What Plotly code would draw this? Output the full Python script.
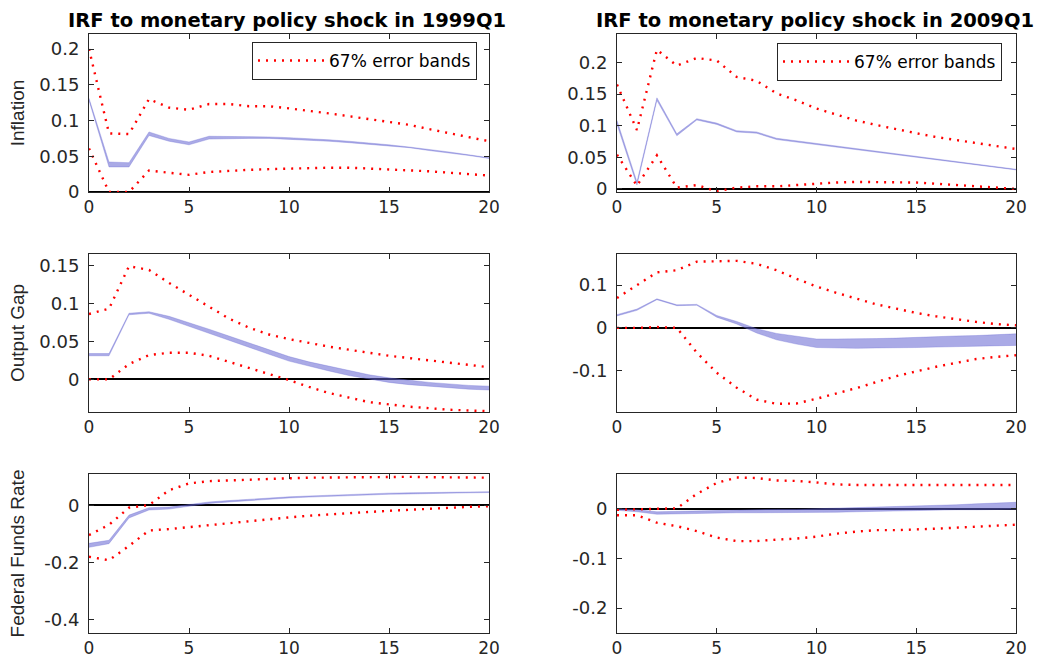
import plotly.graph_objects as go

# horizon (quarters)
horizon = list(range(0, 21))

# 1999Q1 - inflation
infl_99_lo = [0.128, 0.035, 0.035, 0.079, 0.071, 0.066, 0.074, 0.075, 0.075, 0.075, 0.074,
              0.073, 0.071, 0.069, 0.067, 0.065, 0.062, 0.058, 0.055, 0.051, 0.047]
infl_99_hi = [0.131, 0.042, 0.041, 0.084, 0.075, 0.070, 0.078, 0.078, 0.077, 0.077, 0.076,
              0.075, 0.073, 0.071, 0.069, 0.066, 0.063, 0.060, 0.056, 0.052, 0.048]
infl_99_eb_hi = [0.200, 0.082, 0.081, 0.130, 0.118, 0.115, 0.123, 0.123, 0.120, 0.120, 0.117,
                 0.114, 0.110, 0.106, 0.102, 0.098, 0.094, 0.088, 0.082, 0.077, 0.071]
infl_99_eb_lo = [0.061, 0.000, 0.000, 0.030, 0.027, 0.024, 0.028, 0.030, 0.031, 0.032, 0.033,
                 0.033, 0.034, 0.034, 0.033, 0.032, 0.031, 0.029, 0.027, 0.025, 0.023]

# 2009Q1 - inflation
infl_09_lo = [0.102, 0.006, 0.140, 0.084, 0.109, 0.102, 0.090, 0.088, 0.078, 0.074, 0.069,
              0.065, 0.061, 0.057, 0.053, 0.049, 0.045, 0.041, 0.037, 0.033, 0.030]
infl_09_hi = [0.108, 0.011, 0.144, 0.087, 0.111, 0.104, 0.092, 0.090, 0.080, 0.076, 0.071,
              0.067, 0.063, 0.059, 0.055, 0.051, 0.047, 0.043, 0.039, 0.035, 0.031]
infl_09_eb_hi = [0.165, 0.093, 0.220, 0.195, 0.207, 0.203, 0.177, 0.171, 0.151, 0.140, 0.127,
                 0.118, 0.108, 0.101, 0.094, 0.088, 0.082, 0.077, 0.072, 0.068, 0.063]
infl_09_eb_lo = [0.054, 0.005, 0.053, 0.002, 0.006, -0.004, 0.002, 0.004, 0.004, 0.006, 0.009,
                 0.010, 0.011, 0.011, 0.011, 0.010, 0.008, 0.006, 0.004, 0.002, 0.000]

# 1999Q1 - output gap
gap_99_lo = [0.031, 0.031, 0.085, 0.087, 0.079, 0.070, 0.061, 0.051, 0.042, 0.033, 0.024,
             0.017, 0.011, 0.005, 0.000, -0.004, -0.007, -0.009, -0.011, -0.013, -0.014]
gap_99_hi = [0.034, 0.034, 0.087, 0.089, 0.083, 0.075, 0.066, 0.057, 0.048, 0.039, 0.030,
             0.023, 0.017, 0.011, 0.006, 0.002, -0.001, -0.004, -0.006, -0.008, -0.009]
gap_99_eb_hi = [0.086, 0.093, 0.149, 0.144, 0.127, 0.111, 0.095, 0.080, 0.068, 0.059, 0.053,
                0.048, 0.043, 0.039, 0.035, 0.031, 0.028, 0.025, 0.022, 0.019, 0.016]
gap_99_eb_lo = [0.000, 0.000, 0.020, 0.032, 0.035, 0.035, 0.031, 0.023, 0.016, 0.007, -0.001,
                -0.010, -0.018, -0.024, -0.030, -0.033, -0.036, -0.038, -0.040, -0.041, -0.042]

# 2009Q1 - output gap
gap_09_lo = [0.028, 0.041, 0.066, 0.052, 0.053, 0.025, 0.009, -0.012, -0.028, -0.038, -0.046,
             -0.047, -0.048, -0.047, -0.047, -0.046, -0.045, -0.044, -0.043, -0.042, -0.041]
gap_09_hi = [0.031, 0.044, 0.068, 0.054, 0.055, 0.029, 0.015, -0.002, -0.013, -0.020, -0.026,
             -0.026, -0.026, -0.025, -0.024, -0.022, -0.021, -0.019, -0.018, -0.016, -0.014]
gap_09_eb_hi = [0.070, 0.099, 0.130, 0.135, 0.155, 0.156, 0.157, 0.150, 0.135, 0.115, 0.097,
                0.082, 0.068, 0.055, 0.045, 0.035, 0.027, 0.020, 0.014, 0.009, 0.006]
gap_09_eb_lo = [0.000, 0.000, 0.002, 0.000, -0.058, -0.105, -0.140, -0.168, -0.178, -0.177, -0.166,
                -0.154, -0.141, -0.127, -0.113, -0.102, -0.091, -0.082, -0.073, -0.068, -0.064]

# 1999Q1 - federal funds rate
ffr_99_lo = [-0.147, -0.134, -0.044, -0.016, -0.013, -0.003, 0.007, 0.012, 0.017, 0.022, 0.026,
             0.029, 0.032, 0.035, 0.037, 0.039, 0.040, 0.042, 0.043, 0.044, 0.045]
ffr_99_hi = [-0.133, -0.122, -0.034, -0.008, -0.006, 0.003, 0.012, 0.017, 0.022, 0.026, 0.030,
             0.033, 0.036, 0.039, 0.041, 0.043, 0.044, 0.045, 0.046, 0.047, 0.048]
ffr_99_eb_hi = [-0.104, -0.068, -0.008, 0.001, 0.053, 0.077, 0.085, 0.088, 0.090, 0.092, 0.095,
                0.097, 0.098, 0.099, 0.100, 0.100, 0.100, 0.099, 0.098, 0.098, 0.097]
ffr_99_eb_lo = [-0.180, -0.192, -0.142, -0.088, -0.083, -0.076, -0.068, -0.061, -0.054, -0.048, -0.042,
                -0.036, -0.031, -0.027, -0.023, -0.019, -0.015, -0.011, -0.008, -0.005, -0.003]

# 2009Q1 - federal funds rate
ffr_09_lo = [-0.003, -0.006, -0.011, -0.010, -0.009, -0.008, -0.008, -0.008, -0.008, -0.007, -0.007,
             -0.007, -0.006, -0.005, -0.004, -0.003, -0.003, -0.002, -0.002, -0.001, -0.001]
ffr_09_hi = [0.000, -0.002, -0.006, -0.005, -0.004, -0.003, -0.002, -0.002, -0.001, -0.001, 0.000,
             0.001, 0.002, 0.003, 0.004, 0.006, 0.007, 0.008, 0.010, 0.011, 0.013]
ffr_09_eb_hi = [-0.002, -0.001, 0.000, 0.001, 0.030, 0.052, 0.063, 0.062, 0.057, 0.056, 0.053,
                0.049, 0.048, 0.048, 0.048, 0.049, 0.049, 0.049, 0.049, 0.049, 0.048]
ffr_09_eb_lo = [-0.013, -0.013, -0.028, -0.035, -0.045, -0.058, -0.065, -0.065, -0.062, -0.060, -0.056,
                -0.050, -0.046, -0.043, -0.043, -0.042, -0.040, -0.038, -0.036, -0.034, -0.032]

col_titles = ["IRF to monetary policy shock in 1999Q1", "IRF to monetary policy shock in 2009Q1"]
row_titles = ["Inflation", "Output Gap", "Federal Funds Rate"]
band_label = "67% error bands"

W, H = 1037, 658
BAND_FILL = "rgba(100,100,210,0.55)"
BAND_EDGE = "rgba(100,100,210,0.30)"
RED = "#ff0000"
AX = "#262626"
FONT = "Liberation Sans, Arial, Helvetica, sans-serif"
WIDE = "DejaVu Sans, sans-serif"


def px_x(p):
    # window pixel -> paper fraction
    return p / W


def px_y(p):
    return 1 - p / H


# (lo, hi, eb_hi, eb_lo, y range, tick vals, tick text) per panel, row by row
panels = [
    (infl_99_lo, infl_99_hi, infl_99_eb_hi, infl_99_eb_lo, [0, 0.221],
     [0, 0.05, 0.1, 0.15, 0.2], ["0", "0.05", "0.1", "0.15", "0.2"]),
    (infl_09_lo, infl_09_hi, infl_09_eb_hi, infl_09_eb_lo, [-0.005, 0.245],
     [0, 0.05, 0.1, 0.15, 0.2], ["0", "0.05", "0.1", "0.15", "0.2"]),
    (gap_99_lo, gap_99_hi, gap_99_eb_hi, gap_99_eb_lo, [-0.043, 0.165],
     [0, 0.05, 0.1, 0.15], ["0", "0.05", "0.1", "0.15"]),
    (gap_09_lo, gap_09_hi, gap_09_eb_hi, gap_09_eb_lo, [-0.197, 0.173],
     [-0.1, 0, 0.1], ["-0.1", "0", "0.1"]),
    (ffr_99_lo, ffr_99_hi, ffr_99_eb_hi, ffr_99_eb_lo, [-0.447, 0.11],
     [-0.4, -0.2, 0], ["-0.4", "-0.2", "0"]),
    (ffr_09_lo, ffr_09_hi, ffr_09_eb_hi, ffr_09_eb_lo, [-0.25, 0.07],
     [-0.2, -0.1, 0], ["-0.2", "-0.1", "0"]),
]

# pixel boxes of the axes in the window
x_dom = [[px_x(89), px_x(489)], [px_x(617), px_x(1016)]]
y_dom = [[px_y(192), px_y(34)], [px_y(412), px_y(254)], [px_y(633), px_y(474)]]
title_standoff = [9, 9, 14]

fig = go.Figure()
layout = {}

for i, (lo, hi, eb_hi, eb_lo, yr, tv, tt) in enumerate(panels):
    row, col = i // 2, i % 2
    n = "" if i == 0 else str(i + 1)
    xa, ya = "x" + n, "y" + n

    fig.add_trace(go.Scatter(x=horizon, y=lo, xaxis=xa, yaxis=ya, mode="lines",
                             line=dict(color=BAND_EDGE, width=1), showlegend=False, hoverinfo="skip"))
    fig.add_trace(go.Scatter(x=horizon, y=hi, xaxis=xa, yaxis=ya, mode="lines", fill="tonexty",
                             fillcolor=BAND_FILL, line=dict(color=BAND_EDGE, width=1),
                             showlegend=False, hoverinfo="skip"))
    fig.add_trace(go.Scatter(x=horizon, y=eb_hi, xaxis=xa, yaxis=ya, mode="lines", name=band_label,
                             line=dict(color=RED, width=2.4, dash="2px,6px"),
                             showlegend=(row == 0), legend="legend" if col == 0 else "legend2"))
    fig.add_trace(go.Scatter(x=horizon, y=eb_lo, xaxis=xa, yaxis=ya, mode="lines",
                             line=dict(color=RED, width=2.4, dash="2px,6px"), showlegend=False))

    layout["xaxis" + n] = dict(domain=x_dom[col], anchor=ya, range=[0, 20], automargin=False,
                               tickvals=[0, 5, 10, 15, 20], showgrid=False, zeroline=False,
                               showline=True, mirror="ticks", linecolor=AX, linewidth=1,
                               ticks="inside", ticklen=5, tickcolor=AX, ticklabelstandoff=0,
                               tickfont=dict(family=WIDE, size=17, color=AX))
    layout["yaxis" + n] = dict(domain=y_dom[row], anchor=xa, range=yr, tickvals=tv, ticktext=tt,
                               automargin=False, showgrid=False,
                               zeroline=True, zerolinecolor="black", zerolinewidth=1.6,
                               showline=True, mirror="ticks", linecolor=AX, linewidth=1,
                               ticks="inside", ticklen=5, tickcolor=AX, ticklabelstandoff=5,
                               tickfont=dict(family=WIDE, size=18, color=AX))
    if col == 0:
        layout["yaxis" + n]["title"] = dict(text=row_titles[row], standoff=title_standoff[row],
                                            font=dict(family=FONT, size=19, color=AX))

legend_style = dict(bgcolor="white", bordercolor=AX, borderwidth=1, itemwidth=66,
                    font=dict(family=WIDE, size=17, color="black"),
                    xanchor="right", yanchor="top")

fig.update_layout(
    **layout,
    width=W, height=H, autosize=False,
    margin=dict(l=0, r=0, t=0, b=0),
    paper_bgcolor="white", plot_bgcolor="white",
    legend=dict(x=px_x(477), y=px_y(42), **legend_style),
    legend2=dict(x=px_x(1002), y=px_y(43), **legend_style),
)

# column titles
for col, text in enumerate(col_titles):
    fig.add_annotation(text="<b>" + text + "</b>", xref="paper", yref="paper",
                       x=(x_dom[col][0] + x_dom[col][1]) / 2 - 1.5 / W, y=px_y(21),
                       xanchor="center", yanchor="middle", showarrow=False,
                       font=dict(family=WIDE, size=19.5, color="black"))

# the page keeps an 8px body margin by default; drop it so the figure fills the window
fig.write_html("out.html", config={"displayModeBar": False},
               post_script="document.body.style.margin='0px';")
